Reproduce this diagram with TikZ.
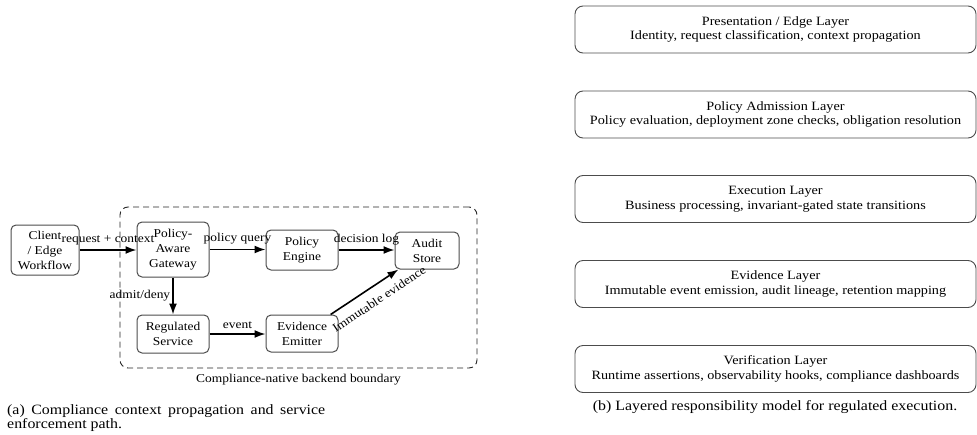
\documentclass[tikz,border=0pt]{standalone}
\usepackage{fontspec}
\setmainfont{Liberation Serif}[FakeStretch=1.12]
\usetikzlibrary{arrows.meta}
\begin{document}
\begin{tikzpicture}[x=1pt,y=-1pt,
  blk/.style={draw=black!70, line width=1pt, rounded corners=5pt, align=center,
    inner sep=1pt, font=\fontsize{12}{15}\selectfont},
  lay/.style={draw=black!70, line width=0.9pt, rounded corners=8pt, align=center,
    minimum width=401pt, minimum height=47pt, inner sep=0pt,
    font=\fontsize{12.7}{14.5}\selectfont},
  arr/.style={-{Latex[length=11pt,width=8pt]}, line width=1.6pt},
  lbl/.style={font=\fontsize{12}{13}\selectfont, inner sep=2pt},
  capt/.style={font=\fontsize{14.2}{14.5}\selectfont, inner sep=0pt},
]
\useasboundingbox (0,0) rectangle (977,434);

% boundary
\node (bd) [draw=black!85, line width=0.9pt, dashed, dash pattern=on 6pt off 4pt,
  rounded corners=8pt, minimum width=357pt, minimum height=161pt, inner sep=0pt]
  at (298.5,287.5) {};
\node (bdl) [lbl] at (298.5,380) {Compliance-native backend boundary};

% nodes (a)
\node (client) [blk, minimum width=68pt, minimum height=50pt] at (45,250) {Client\\/ Edge\\Workflow};
\node (gw) [blk, minimum width=72pt, minimum height=55pt] at (173,249.5) {Policy-\\Aware\\Gateway};
\node (pe) [blk, minimum width=72pt, minimum height=40pt] at (302,250) {Policy\\Engine};
\node (as) [blk, minimum width=64pt, minimum height=37pt] at (427,250.5) {Audit\\Store};
\node (rs) [blk, minimum width=72pt, minimum height=38pt] at (173,334) {Regulated\\Service};
\node (ee) [blk, minimum width=72pt, minimum height=37pt] at (302,333.5) {Evidence\\Emitter};

% connectors (a)
\draw[arr] (client.east) -- node[lbl, above=2.5pt] {request + context} (client.east -| gw.west);
\draw[arr] (gw.east) -- node[lbl, above=2.5pt] {policy query} (gw.east -| pe.west);
\draw[arr] (pe.east) -- node[lbl, above=2.5pt] {decision log} (pe.east -| as.west);
\draw[arr] (gw) -- node[lbl, left] {admit/deny} (rs);
\draw[arr] (rs.east) -- node[lbl, above=2.5pt] {event} (rs.east -| ee.west);
\draw[arr] (ee) -- node[lbl, sloped, below=7pt, pos=0.6] {Immutable evidence} (as);

% layers (b)
\node (l1) [lay] at (775.5,29.5) {Presentation / Edge Layer\\Identity, request classification, context propagation};
\node (l2) [lay] at (775.5,114.5) {Policy Admission Layer\\Policy evaluation, deployment zone checks, obligation resolution};
\node (l3) [lay] at (775.5,199) {Execution Layer\\Business processing, invariant-gated state transitions};
\node (l4) [lay] at (775.5,284) {Evidence Layer\\Immutable event emission, audit lineage, retention mapping};
\node (l5) [lay] at (775.5,369) {Verification Layer\\Runtime assertions, observability hooks, compliance dashboards};

% captions
\node (capa) [capt, anchor=north west, align=left] at (7,404)
  {\makebox[318pt][s]{(a) Compliance context propagation and service}\\enforcement path.};
\node (capb) [capt] at (775,407) {(b) Layered responsibility model for regulated execution.};
\end{tikzpicture}
\end{document}
